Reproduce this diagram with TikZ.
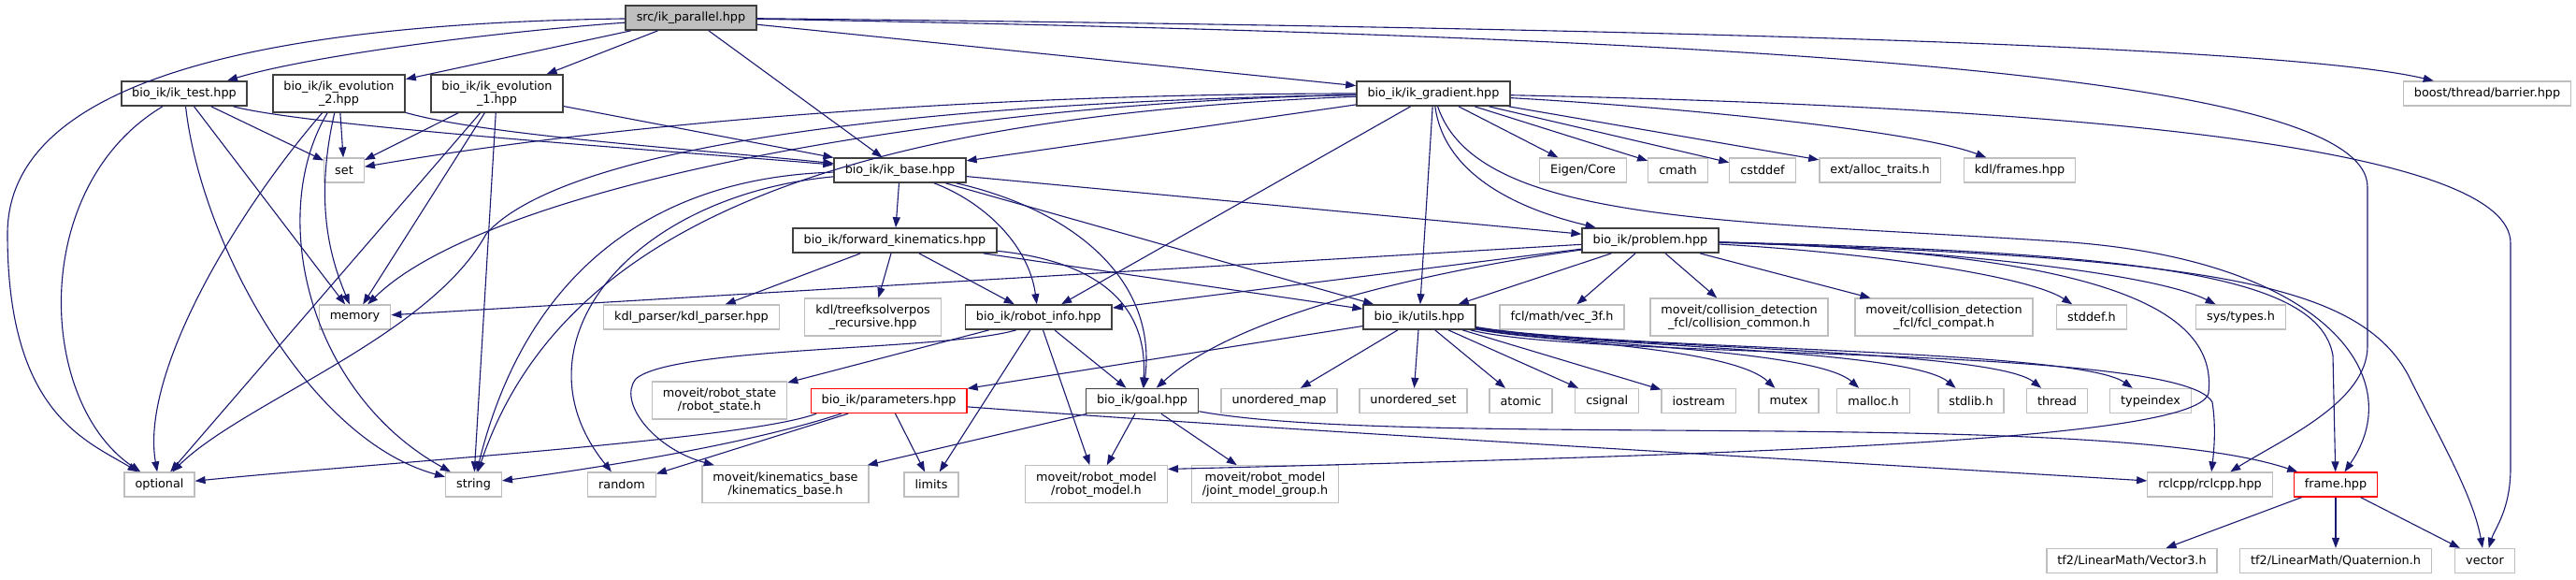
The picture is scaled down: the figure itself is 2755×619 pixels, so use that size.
\documentclass[tikz,border=0pt]{standalone}
\usepackage{fontspec}
\setmainfont{DejaVu Sans}
\usetikzlibrary{arrows.meta}
\definecolor{edgeblue}{HTML}{191970}
\definecolor{extgray}{HTML}{BFBFBF}
\definecolor{hdrgray}{HTML}{404040}
\begin{document}
\begin{tikzpicture}[x=1pt,y=-1pt,
  every node/.style={font=\fontsize{12.8}{14}\selectfont,inner xsep=11.5pt,inner ysep=6.5pt,minimum height=26pt,align=center,fill=white,line width=1.3pt},
  hdr/.style={draw=hdrgray,line width=1.7pt},
  ext/.style={draw=extgray},
  trunc/.style={draw=red},
  root/.style={draw=hdrgray,line width=1.7pt,fill=extgray},
  dep/.style={draw=edgeblue,line width=1.1pt,-{Triangle[length=11pt,width=8pt]}}]
  \path[use as bounding box,fill=white] (0,0) rectangle (2755,619);
  \node[root] (P) at (739,19) {src/ik\_parallel.hpp};
  \node[hdr] (T) at (197,100) {bio\_ik/ik\_test.hpp};
  \node[hdr] (E2) at (362.5,100) {bio\_ik/ik\_evolution\\\_2.hpp};
  \node[hdr] (E1) at (531.5,100) {bio\_ik/ik\_evolution\\\_1.hpp};
  \node[hdr] (G) at (1533,100) {bio\_ik/ik\_gradient.hpp};
  \node[ext] (barrier) at (2660,100) {boost/thread/barrier.hpp};
  \node[ext] (set) at (368,182) {set};
  \node[hdr] (B) at (962.5,182) {bio\_ik/ik\_base.hpp};
  \node[ext] (eigen) at (1693,182) {Eigen/Core};
  \node[ext] (cmath) at (1794.5,182) {cmath};
  \node[ext] (cstddef) at (1885,182) {cstddef};
  \node[ext] (alloc) at (2010.5,182) {ext/alloc\_traits.h};
  \node[ext] (kdlframes) at (2160,182) {kdl/frames.hpp};
  \node[hdr] (FK) at (957,257) {bio\_ik/forward\_kinematics.hpp};
  \node[hdr] (prob) at (1765,257) {bio\_ik/problem.hpp};
  \node[ext] (memory) at (379.5,339) {memory};
  \node[ext] (kdlparser) at (739.5,339) {kdl\_parser/kdl\_parser.hpp};
  \node[ext] (treefk) at (933.5,339) {kdl/treefksolverpos\\\_recursive.hpp};
  \node[hdr] (RI) at (1110.7,339) {bio\_ik/robot\_info.hpp};
  \node[hdr] (utils) at (1518,339) {bio\_ik/utils.hpp};
  \node[ext] (vecf) at (1670.5,339) {fcl/math/vec\_3f.h};
  \node[ext] (colcommon) at (1860,339) {moveit/collision\_detection\\\_fcl/collision\_common.h};
  \node[ext] (fclcompat) at (2079,339) {moveit/collision\_detection\\\_fcl/fcl\_compat.h};
  \node[ext] (stddef) at (2237,339) {stddef.h};
  \node[ext] (systypes) at (2396.5,339) {sys/types.h};
  \node[ext] (rstate) at (769.5,428) {moveit/robot\_state\\/robot\_state.h};
  \node[trunc] (params) at (950.6,428.5) {bio\_ik/parameters.hpp};
  \node[hdr] (goal) at (1221.5,428.5) {bio\_ik/goal.hpp};
  \node[ext] (umap) at (1368,428.5) {unordered\_map};
  \node[ext] (uset) at (1511.5,428.5) {unordered\_set};
  \node[ext] (atomic) at (1626.5,428.5) {atomic};
  \node[ext] (csignal) at (1718.7,428.5) {csignal};
  \node[ext] (iostream) at (1816.7,428.5) {iostream};
  \node[ext] (mutex) at (1913,428.5) {mutex};
  \node[ext] (malloc) at (2003.5,428.5) {malloc.h};
  \node[ext] (stdlib) at (2108,428.5) {stdlib.h};
  \node[ext] (thread) at (2200,428.5) {thread};
  \node[ext] (typeindex) at (2300,428.5) {typeindex};
  \node[ext] (optional) at (170.5,518) {optional};
  \node[ext] (string) at (506.5,518) {string};
  \node[ext] (random) at (665,518) {random};
  \node[ext] (kinbase) at (840,517.7) {moveit/kinematics\_base\\/kinematics\_base.h};
  \node[ext] (limits) at (996,518) {limits};
  \node[ext] (rmodel) at (1172.5,517.7) {moveit/robot\_model\\/robot\_model.h};
  \node[ext] (jmg) at (1353,517.7) {moveit/robot\_model\\/joint\_model\_group.h};
  \node[ext] (rclcpp) at (2363.5,518) {rclcpp/rclcpp.hpp};
  \node[trunc] (frame) at (2498,518) {frame.hpp};
  \node[ext] (vecthree) at (2280,599.5) {tf2/LinearMath/Vector3.h};
  \node[ext] (quat) at (2498,599.5) {tf2/LinearMath/Quaternion.h};
  \node[ext] (vector) at (2657.5,599.5) {vector};
  \draw[dep] (P) .. controls (300,25) and (8,80) .. (8,250) .. controls (8,440) and (90,470) .. (optional);
  \draw[dep] (P) .. controls (520,35) and (330,60) .. (T);
  \draw[dep] (P) -- (E2);
  \draw[dep] (P) -- (E1);
  \draw[dep] (P) -- (B);
  \draw[dep] (P) -- (G);
  \draw[dep] (P) .. controls (1800,30) and (2450,50) .. (barrier);
  \draw[dep] (P) .. controls (1900,40) and (2532,80) .. (2532,200) -- (2532,370) .. controls (2532,430) and (2440,470) .. (rclcpp);
  \draw[dep] (T) .. controls (30,200) and (40,430) .. (optional);
  \draw[dep] (T) .. controls (215,260) and (330,470) .. (string);
  \draw[dep] (T) -- (memory);
  \draw[dep] (T) -- (set);
  \draw[dep] (T) .. controls (330,135) and (700,160) .. (B);
  \draw[dep] (E2) .. controls (250,230) and (150,400) .. (optional);
  \draw[dep] (E2) .. controls (285,230) and (330,420) .. (string);
  \draw[dep] (E2) .. controls (335,220) and (355,280) .. (memory);
  \draw[dep] (E2) -- (set);
  \draw[dep] (E2) .. controls (520,145) and (750,160) .. (B);
  \draw[dep] (E1) -- (set);
  \draw[dep] (E1) -- (optional);
  \draw[dep] (E1) -- (memory);
  \draw[dep] (E1) -- (string);
  \draw[dep] (E1) -- (B);
  \draw[dep] (G) -- (B);
  \draw[dep] (G) .. controls (1100,100) and (700,125) .. (set);
  \draw[dep] (G) .. controls (1000,110) and (520,200) .. (memory);
  \draw[dep] (G) .. controls (950,110) and (600,160) .. (520,250) .. controls (460,360) and (260,430) .. (optional);
  \draw[dep] (G) .. controls (900,125) and (600,240) .. (string);
  \draw[dep] (G) -- (RI);
  \draw[dep] (G) -- (utils);
  \draw[dep] (G) .. controls (1545,190) and (1630,225) .. (prob);
  \draw[dep] (G) -- (eigen);
  \draw[dep] (G) -- (cmath);
  \draw[dep] (G) -- (cstddef);
  \draw[dep] (G) -- (alloc);
  \draw[dep] (G) .. controls (1800,115) and (2050,140) .. (kdlframes);
  \draw[dep] (G) .. controls (2250,115) and (2685,160) .. (2685,260) -- (2685,500) .. controls (2685,545) and (2668,565) .. (vector);
  \draw[dep] (G) .. controls (1580,240) and (1850,235) .. (2200,258) .. controls (2480,275) and (2580,400) .. (frame);
  \draw[dep] (prob) -- (memory);
  \draw[dep] (prob) -- (RI);
  \draw[dep] (prob) .. controls (1560,285) and (1330,330) .. (goal);
  \draw[dep] (prob) -- (utils);
  \draw[dep] (prob) -- (vecf);
  \draw[dep] (prob) -- (colcommon);
  \draw[dep] (prob) -- (fclcompat);
  \draw[dep] (prob) .. controls (2000,270) and (2170,295) .. (stddef);
  \draw[dep] (prob) .. controls (2050,265) and (2300,290) .. (systypes);
  \draw[dep] (prob) .. controls (2250,270) and (2372,330) .. (2362,420) .. controls (2352,470) and (1900,485) .. (rmodel.12);
  \draw[dep] (prob) .. controls (2300,270) and (2480,295) .. (2495,380) -- (frame);
  \draw[dep] (prob) .. controls (2350,275) and (2520,300) .. (2575,400) .. controls (2610,470) and (2645,530) .. (vector);
  \draw[dep] (FK) -- (kdlparser);
  \draw[dep] (FK) -- (treefk);
  \draw[dep] (FK) -- (RI);
  \draw[dep] (FK) .. controls (1180,280) and (1228,330) .. (goal);
  \draw[dep] (FK) -- (utils);
  \draw[dep] (B) -- (FK);
  \draw[dep] (B) .. controls (670,210) and (545,370) .. (random);
  \draw[dep] (B) .. controls (690,190) and (560,300) .. (string);
  \draw[dep] (B) .. controls (1050,215) and (1100,260) .. (RI);
  \draw[dep] (B) .. controls (1150,225) and (1238,300) .. (goal);
  \draw[dep] (B) -- (utils);
  \draw[dep] (B) -- (prob);
  \draw[dep] (RI) -- (rstate);
  \draw[dep] (RI.-150) .. controls (1010,375) and (720,370) .. (680,405) .. controls (660,430) and (700,480) .. (kinbase);
  \draw[dep] (RI) -- (limits);
  \draw[dep] (RI) -- (rmodel);
  \draw[dep] (RI) -- (goal);
  \draw[dep] (goal) -- (kinbase);
  \draw[dep] (goal) -- (rmodel);
  \draw[dep] (goal) -- (jmg);
  \draw[dep] (goal) .. controls (1500,480) and (2250,435) .. (frame);
  \draw[dep] (params.-170) .. controls (800,470) and (400,495) .. (optional);
  \draw[dep] (params.-165) .. controls (800,475) and (640,500) .. (string);
  \draw[dep] (params) -- (random);
  \draw[dep] (params) -- (limits);
  \draw[dep] (params) .. controls (1300,455) and (1900,490) .. (rclcpp);
  \draw[dep] (utils) -- (params);
  \draw[dep] (utils) -- (umap);
  \draw[dep] (utils) -- (uset);
  \draw[dep] (utils) -- (atomic);
  \draw[dep] (utils) -- (csignal);
  \draw[dep] (utils) -- (iostream);
  \draw[dep] (utils) .. controls (1640,365) and (1850,370) .. (mutex);
  \draw[dep] (utils) .. controls (1660,368) and (1940,372) .. (malloc);
  \draw[dep] (utils) .. controls (1680,370) and (2040,372) .. (stdlib);
  \draw[dep] (utils) .. controls (1700,372) and (2130,372) .. (thread);
  \draw[dep] (utils) .. controls (1720,374) and (2220,372) .. (typeindex);
  \draw[dep] (utils) .. controls (1700,385) and (2335,368) .. (2366,430) .. controls (2370,455) and (2368,480) .. (rclcpp);
  \draw[dep] (frame) -- (vecthree);
  \draw[dep] (frame) -- (quat);
  \draw[dep] (frame) -- (vector);
\end{tikzpicture}
\end{document}
